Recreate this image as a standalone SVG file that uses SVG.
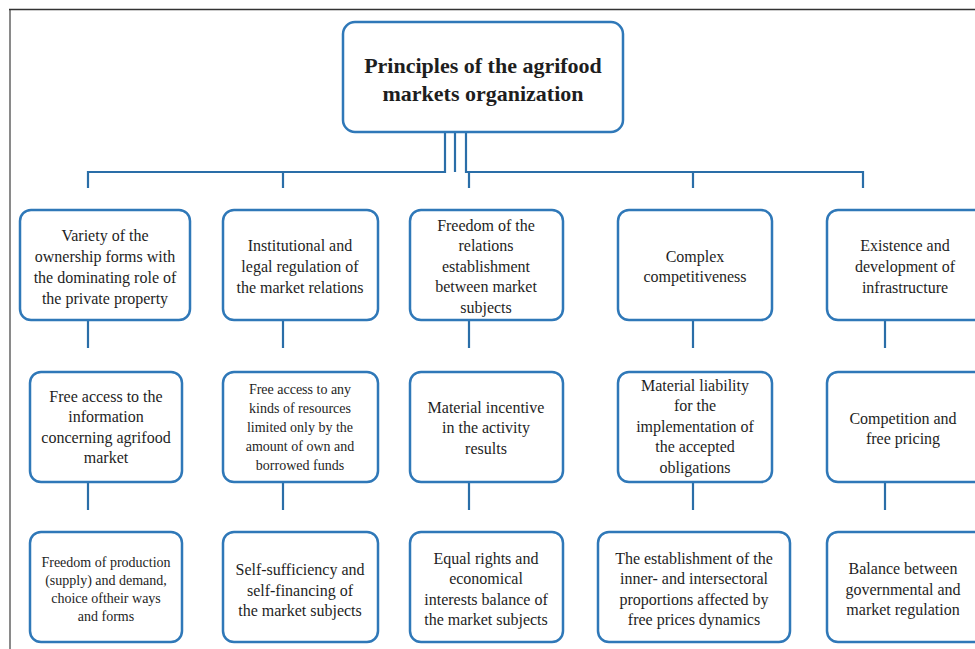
<svg xmlns="http://www.w3.org/2000/svg" width="975" height="649" viewBox="0 0 975 649">
<style>
.box{fill:#fff;stroke:#2f78b8;stroke-width:2.5}
.ln{fill:none;stroke:#2a6ea8;stroke-width:2.2}
.gh{fill:none;stroke:#d4e6f4;stroke-width:1.5}
text{font-family:"Liberation Serif","Times New Roman",serif;fill:#1e1e1e;text-anchor:middle}
.t{font-size:17px;font-weight:bold}
.m{font-size:16px}
.s{font-size:14px}
.title{font-size:22px;font-weight:bold}
</style>
<rect width="975" height="649" fill="#fff"/>
<line x1="10" y1="9" x2="10" y2="649" stroke="#8a8a8a" stroke-width="2"/>
<line x1="9" y1="9.5" x2="975" y2="9.5" stroke="#333" stroke-width="1.5"/>

<g id="connectors">
<path class="gh" d="M445 112V132M455 112V132M466 112V132"/>
<path class="ln" d="M445 132V172H88V188M455 132V172M466 132V172H863V188M469 172V188M283 172V188M693 172V188"/>
<path class="gh" d="M88 300V320M283 300V320M469 300V320M693 300V320M885 300V320M88 462V482M283 462V482M469 462V482M693 462V482M885 462V482"/>
<path class="ln" d="M88 321V348M283 321V348M469 321V348M693 321V348M885 321V348M88 483V510M283 483V510M469 483V510M693 483V510M885 483V510"/>
</g>

<g id="title">
<rect class="box" x="343" y="22" width="280" height="110" rx="12"/>
<text class="title" x="483" y="73">Principles of the agrifood</text>
<text class="title" x="483" y="101">markets organization</text>
</g>

<g id="r1c1">
<rect class="box" x="20" y="210" width="170" height="110" rx="11"/>
<text class="m" x="105" y="241">Variety of the</text>
<text class="m" x="105" y="262">ownership forms with</text>
<text class="m" x="105" y="283">the dominating role of</text>
<text class="m" x="105" y="304">the private property</text>
</g>
<g id="r1c2">
<rect class="box" x="223" y="210" width="155" height="110" rx="11"/>
<text class="m" x="300" y="251">Institutional and</text>
<text class="m" x="300" y="272">legal regulation of</text>
<text class="m" x="300" y="293">the market relations</text>
</g>
<g id="r1c3">
<rect class="box" x="410" y="210" width="153" height="110" rx="11"/>
<text class="m" x="486" y="231">Freedom of the</text>
<text class="m" x="486" y="251">relations</text>
<text class="m" x="486" y="272">establishment</text>
<text class="m" x="486" y="292">between market</text>
<text class="m" x="486" y="313">subjects</text>
</g>
<g id="r1c4">
<rect class="box" x="618" y="210" width="154" height="110" rx="11"/>
<text class="m" x="695" y="262">Complex</text>
<text class="m" x="695" y="282">competitiveness</text>
</g>
<g id="r1c5">
<rect class="box" x="827" y="210" width="160" height="110" rx="11"/>
<text class="m" x="905" y="251">Existence and</text>
<text class="m" x="905" y="272">development of</text>
<text class="m" x="905" y="293">infrastructure</text>
</g>

<g id="r2c1">
<rect class="box" x="30" y="372" width="152" height="110" rx="11"/>
<text class="m" x="106" y="402">Free access to the</text>
<text class="m" x="106" y="422">information</text>
<text class="m" x="106" y="443">concerning agrifood</text>
<text class="m" x="106" y="463">market</text>
</g>
<g id="r2c2">
<rect class="box" x="223" y="372" width="155" height="110" rx="11"/>
<text class="s" x="300" y="394">Free access to any</text>
<text class="s" x="300" y="413">kinds of resources</text>
<text class="s" x="300" y="432">limited only by the</text>
<text class="s" x="300" y="451">amount of own and</text>
<text class="s" x="300" y="470">borrowed funds</text>
</g>
<g id="r2c3">
<rect class="box" x="410" y="372" width="153" height="110" rx="11"/>
<text class="m" x="486" y="413">Material incentive</text>
<text class="m" x="486" y="433">in the activity</text>
<text class="m" x="486" y="454">results</text>
</g>
<g id="r2c4">
<rect class="box" x="618" y="372" width="154" height="110" rx="11"/>
<text class="m" x="695" y="391">Material liability</text>
<text class="m" x="695" y="411">for the</text>
<text class="m" x="695" y="432">implementation of</text>
<text class="m" x="695" y="452">the accepted</text>
<text class="m" x="695" y="473">obligations</text>
</g>
<g id="r2c5">
<rect class="box" x="827" y="372" width="160" height="110" rx="11"/>
<text class="m" x="903" y="424">Competition and</text>
<text class="m" x="903" y="444">free pricing</text>
</g>

<g id="r3c1">
<rect class="box" x="30" y="532" width="152" height="110" rx="11"/>
<text class="s" x="106" y="567">Freedom of production</text>
<text class="s" x="106" y="585">(supply) and demand,</text>
<text class="s" x="106" y="603">choice oftheir ways</text>
<text class="s" x="106" y="621">and forms</text>
</g>
<g id="r3c2">
<rect class="box" x="223" y="532" width="155" height="110" rx="11"/>
<text class="m" x="300" y="575">Self-sufficiency and</text>
<text class="m" x="300" y="596">self-financing of</text>
<text class="m" x="300" y="616">the market subjects</text>
</g>
<g id="r3c3">
<rect class="box" x="410" y="532" width="153" height="110" rx="11"/>
<text class="m" x="486" y="564">Equal rights and</text>
<text class="m" x="486" y="584">economical</text>
<text class="m" x="486" y="605">interests balance of</text>
<text class="m" x="486" y="625">the market subjects</text>
</g>
<g id="r3c4">
<rect class="box" x="598" y="532" width="192" height="110" rx="11"/>
<text class="m" x="694" y="564">The establishment of the</text>
<text class="m" x="694" y="584">inner- and intersectoral</text>
<text class="m" x="694" y="605">proportions affected by</text>
<text class="m" x="694" y="625">free prices dynamics</text>
</g>
<g id="r3c5">
<rect class="box" x="827" y="532" width="160" height="110" rx="11"/>
<text class="m" x="903" y="574">Balance between</text>
<text class="m" x="903" y="595">governmental and</text>
<text class="m" x="903" y="615">market regulation</text>
</g>
</svg>
